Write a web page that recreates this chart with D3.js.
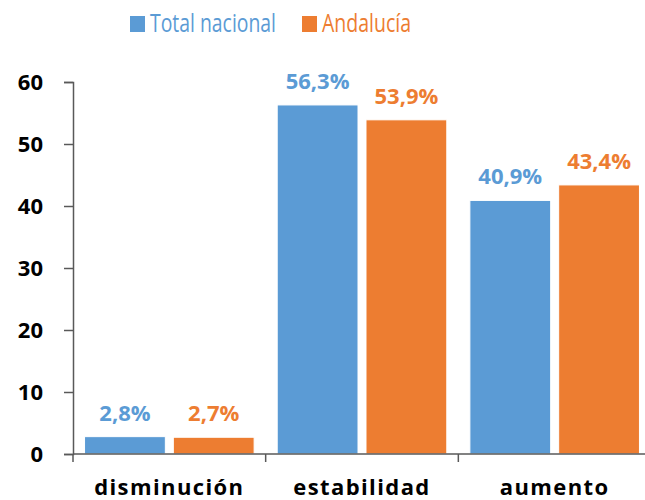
<!DOCTYPE html>
<html>
<head>
<meta charset="utf-8">
<script src="https://cdn.jsdelivr.net/npm/d3@7"></script>
<style>
  body { margin: 0; background: #fff; }
  text { font-family: "Open Sans", sans-serif; }
</style>
</head>
<body>
<script>
"use strict";

const categories = ["disminución", "estabilidad", "aumento"];
const seriesNames = ["Total nacional", "Andalucía"];
const totalNacional = [2.8, 56.3, 40.9];
const andalucia = [2.7, 53.9, 43.4];
const yTicks = [0, 10, 20, 30, 40, 50, 60];

const colors = ["#5B9BD5", "#ED7D31"];

let width = 645,
    height = 500,
    margin = {left: 73, right: -6, top: 82, bottom: 46};

let svg = d3.select("body").append("svg")
    .attr("width", width)
    .attr("height", height);

let x = d3.scaleBand()
    .domain(categories)
    .range([margin.left, width - margin.right]);

let x1 = d3.scaleBand()
    .domain(seriesNames)
    .range([0, x.bandwidth()])
    .paddingInner(0.09)
    .paddingOuter(0.13);

let y = d3.scaleLinear()
    .domain([0, 60])
    .range([height - margin.bottom, margin.top]);

let series = [totalNacional, andalucia];

// bars + value labels
series.forEach(function (vals, s) {
    svg.append("g").selectAll("rect")
        .data(vals)
        .enter().append("rect")
        .attr("x", (d, i) => x(categories[i]) + x1(seriesNames[s]))
        .attr("y", d => y(d))
        .attr("width", x1.bandwidth())
        .attr("height", d => y(0) - y(d))
        .attr("fill", colors[s])
        .attr("stroke", "#fff")
        .attr("stroke-width", 1);

    svg.append("g").selectAll("text")
        .data(vals)
        .enter().append("text")
        .attr("x", (d, i) => x(categories[i]) + x1(seriesNames[s]) + x1.bandwidth() / 2)
        .attr("y", d => y(d) - 16)
        .attr("text-anchor", "middle")
        .attr("fill", colors[s])
        .style("font-size", "22px")
        .style("font-weight", "bold")
        .text(d => d.toFixed(1).replace(".", ",") + "%");
});

// y axis
let yAxis = svg.append("g")
    .attr("transform", "translate(" + margin.left + ",0)")
    .call(d3.axisLeft(y).tickValues(yTicks).tickSize(9).tickPadding(21));
yAxis.select(".domain").attr("stroke", "#595959").attr("stroke-width", 1.5);
yAxis.selectAll(".tick line").attr("stroke", "#595959").attr("stroke-width", 1.5);
yAxis.selectAll(".tick text")
    .attr("fill", "#000")
    .style("font-family", "'Open Sans', sans-serif")
    .style("font-size", "22px")
    .style("font-weight", "bold");

// x axis
let xAxis = svg.append("g")
    .attr("transform", "translate(0," + y(0) + ")");
xAxis.append("line")
    .attr("x1", margin.left).attr("x2", width)
    .attr("stroke", "#595959").attr("stroke-width", 1.5);
xAxis.selectAll("line.tick")
    .data(categories)
    .enter().append("line")
    .attr("class", "tick")
    .attr("x1", d => x(d)).attr("x2", d => x(d))
    .attr("y1", 0).attr("y2", 8)
    .attr("stroke", "#595959").attr("stroke-width", 1.5);
xAxis.selectAll("text")
    .data(categories)
    .enter().append("text")
    .attr("x", d => x(d) + x.bandwidth() / 2)
    .attr("y", 41)
    .attr("text-anchor", "middle")
    .attr("fill", "#000")
    .style("font-size", "22px")
    .style("font-weight", "bold")
    .style("letter-spacing", "1.4px")
    .text(d => d);

// legend
let legend = svg.append("g");
let legendX = [130, 302];
let legendW = [126, 89];
seriesNames.forEach(function (name, s) {
    legend.append("rect")
        .attr("x", legendX[s]).attr("y", 16)
        .attr("width", 15).attr("height", 16)
        .attr("fill", colors[s]);
    legend.append("text")
        .attr("x", legendX[s] + 20).attr("y", 32)
        .attr("fill", colors[s])
        .attr("textLength", legendW[s])
        .attr("lengthAdjust", "spacingAndGlyphs")
        .style("font-size", "25px")
        .text(name);
});
</script>
</body>
</html>
